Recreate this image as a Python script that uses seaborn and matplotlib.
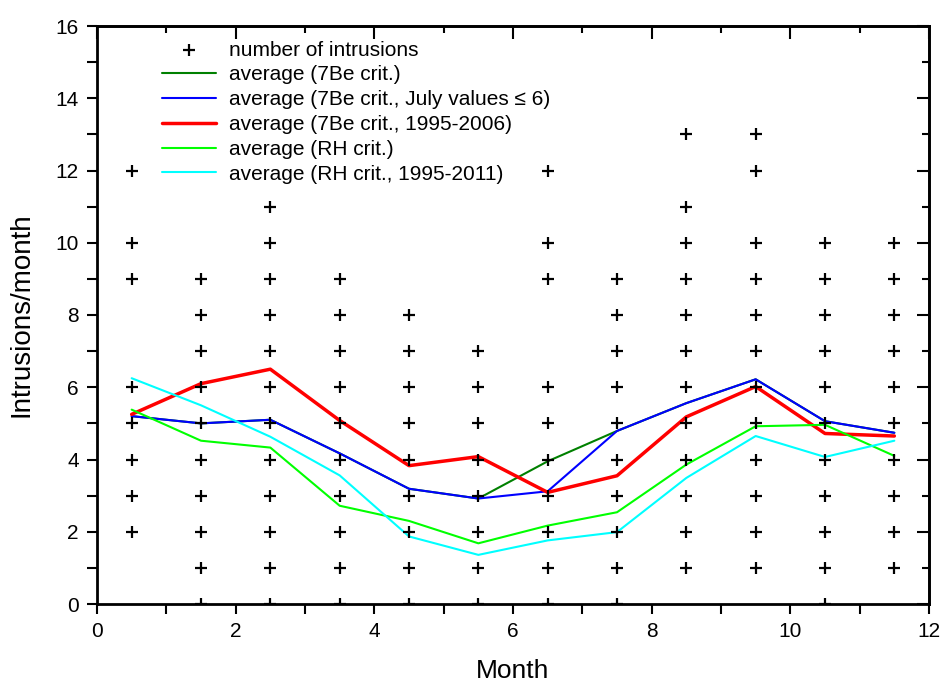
import numpy as np
import pandas as pd
import matplotlib
matplotlib.use('Agg')
import matplotlib.pyplot as plt
from matplotlib.ticker import MultipleLocator
import seaborn as sns

sns.set_style('white')
plt.rcParams['font.family'] = ['Liberation Sans', 'DejaVu Sans']
plt.rcParams['text.color'] = 'black'
plt.rcParams['axes.labelcolor'] = 'black'
plt.rcParams['xtick.color'] = 'black'
plt.rcParams['ytick.color'] = 'black'

# month positions (middle of each month)
months = [0.5, 1.5, 2.5, 3.5, 4.5, 5.5, 6.5, 7.5, 8.5, 9.5, 10.5, 11.5]

# number of intrusions per month in the single years (distinct values shown)
intrusions = [
    [12, 10, 9, 6, 5, 4, 3, 2],
    [9, 8, 7, 6, 5, 4, 3, 2, 1, 0],
    [11, 10, 9, 8, 7, 6, 5, 4, 3, 2, 1, 0],
    [9, 8, 7, 6, 5, 4, 3, 2, 1, 0],
    [8, 7, 6, 5, 4, 3, 2, 1, 0],
    [7, 6, 5, 4, 3, 2, 1, 0],
    [12, 10, 9, 6, 5, 4, 3, 2, 1, 0],
    [9, 8, 7, 6, 5, 4, 3, 2, 1, 0],
    [13, 11, 10, 9, 8, 7, 6, 5, 4, 3, 2, 1],
    [13, 12, 10, 9, 8, 7, 6, 5, 4, 3, 2, 1],
    [10, 9, 8, 7, 6, 5, 4, 3, 2, 1, 0],
    [10, 9, 8, 7, 6, 5, 4, 3, 2, 1],
]

avg_7be = [5.2, 5.0, 5.1, 4.17, 3.19, 2.92, 3.95, 4.79, 5.56, 6.22, 5.06, 4.74]
avg_7be_july = [5.2, 5.0, 5.1, 4.17, 3.19, 2.92, 3.12, 4.79, 5.56, 6.22, 5.06, 4.74]
avg_7be_9506 = [5.25, 6.1, 6.5, 5.08, 3.83, 4.08, 3.09, 3.55, 5.18, 6.02, 4.72, 4.65]
avg_rh = [5.38, 4.52, 4.33, 2.72, 2.3, 1.68, 2.17, 2.54, 3.86, 4.92, 4.96, 4.1]
avg_rh_9511 = [6.25, 5.5, 4.63, 3.56, 1.87, 1.36, 1.76, 1.99, 3.49, 4.65, 4.07, 4.52]

pts = pd.DataFrame([(m, v) for m, vals in zip(months, intrusions) for v in vals],
                   columns=['month', 'n'])

fig = plt.figure(figsize=(9.44, 6.88), dpi=100)
ax = fig.add_axes([97/944, 1 - 604/688, (929 - 97)/944, (604 - 26)/688])

sns.scatterplot(data=pts, x='month', y='n', marker='+', s=70, color='black',
                linewidth=1.6, label='number of intrusions', zorder=5, ax=ax)
sns.lineplot(x=months, y=avg_7be, color='#008000', lw=1.5, label='average (7Be crit.)', ax=ax)
sns.lineplot(x=months, y=avg_7be_july, color='#0000ff', lw=1.5,
             label='average (7Be crit., July values \u2264 6)', ax=ax)
sns.lineplot(x=months, y=avg_7be_9506, color='#ff0000', lw=2.5,
             label='average (7Be crit., 1995-2006)', ax=ax)
sns.lineplot(x=months, y=avg_rh, color='#00ff00', lw=1.5, label='average (RH crit.)', ax=ax)
sns.lineplot(x=months, y=avg_rh_9511, color='#00ffff', lw=1.5,
             label='average (RH crit., 1995-2011)', ax=ax)

ax.set_xlim(0, 12)
ax.set_ylim(0, 16)
ax.xaxis.set_major_locator(MultipleLocator(2))
ax.xaxis.set_minor_locator(MultipleLocator(1))
ax.yaxis.set_major_locator(MultipleLocator(2))
ax.yaxis.set_minor_locator(MultipleLocator(1))
ax.tick_params(which='both', direction='out', length=7, width=1.5, labelsize=15,
               bottom=True, left=True, top=False, right=False)
ax.tick_params(axis='x', pad=6)
ax.tick_params(axis='y', pad=6)
for sp in ax.spines.values():
    sp.set_linewidth(2)
    sp.set_color('black')

# inward ticks on top and right, like the original plot
sec = ax.secondary_xaxis('top')
sec.xaxis.set_major_locator(MultipleLocator(2))
sec.xaxis.set_minor_locator(MultipleLocator(1))
sec.tick_params(which='major', direction='in', length=9, width=1.5, labeltop=False)
sec.tick_params(which='minor', direction='in', length=5, width=1.5)
sec.spines['top'].set_linewidth(2)
sec = ax.secondary_yaxis('right')
sec.yaxis.set_major_locator(MultipleLocator(2))
sec.yaxis.set_minor_locator(MultipleLocator(1))
sec.tick_params(which='major', direction='in', length=9, width=1.5, labelright=False)
sec.tick_params(which='minor', direction='in', length=5, width=1.5)
sec.spines['right'].set_linewidth(2)

ax.set_xlabel('Month', fontsize=19, labelpad=13)
ax.set_ylabel('Intrusions/month', fontsize=20, labelpad=15)

ax.legend(loc='upper left', bbox_to_anchor=(0.06, 1.0), frameon=False, fontsize=15,
          handlelength=2.6, handletextpad=0.65, labelspacing=0.28, borderaxespad=0.3)

fig.savefig('out.png', dpi=100)
